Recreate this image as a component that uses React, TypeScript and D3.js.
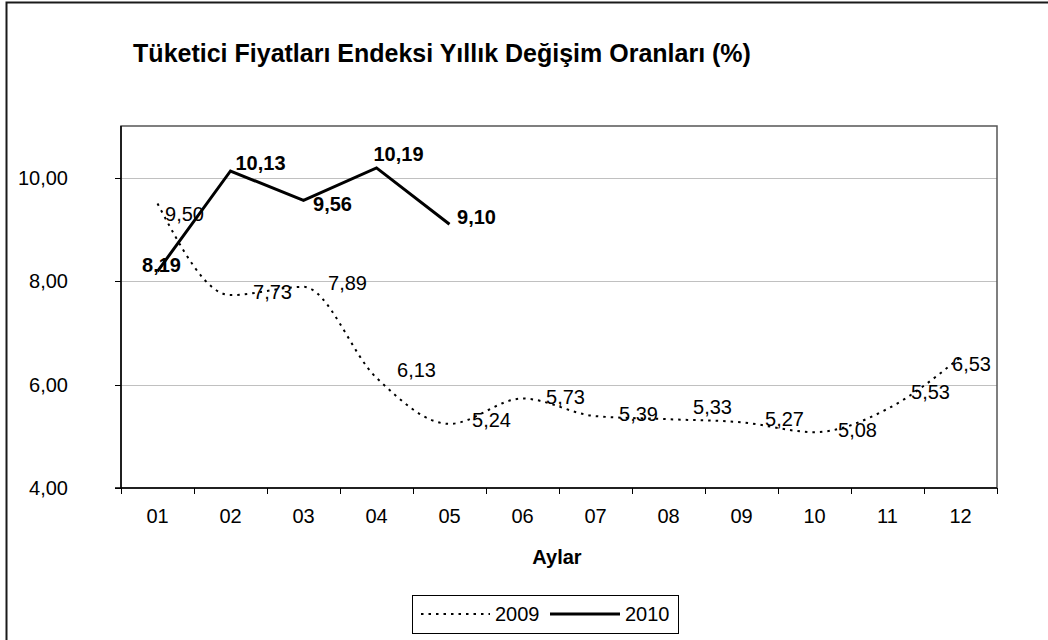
import React from 'react'
import * as d3 from 'd3'

// chart values
const months = ['01', '02', '03', '04', '05', '06', '07', '08', '09', '10', '11', '12']
const values2009 = [9.5, 7.73, 7.89, 6.13, 5.24, 5.73, 5.39, 5.33, 5.27, 5.08, 5.53, 6.53]
const values2010 = [8.19, 10.13, 9.56, 10.19, 9.1]
const yTicks = [4, 6, 8, 10]
const seriesNames = ['2009', '2010']

// hand placed label offsets (like the manually dragged labels in the original)
const offsets2009 = [[27, 10], [42, -3], [44, -4], [40, -8], [42, -4], [43, -2], [43, -2], [44, -12], [43, -3], [43, -2], [43, -17], [11, 7]]
const offsets2010 = [[4, -6], [30, -8], [29, 4], [22, -14], [27, -7]]

const W = 1048
const H = 640
const left = 121
const right = 997
const top = 126
const bottom = 488
const font = '"Liberation Sans", Arial, sans-serif'

const fmt = (v: number) => d3.format('.2f')(v).replace('.', ',')

const App = () => {
  const x = d3.scaleBand().domain(months).range([left, right])
  const cx = (m: string) => (x(m) as number) + x.bandwidth() / 2
  const y = d3.scaleLinear().domain([4, 11]).range([bottom, top])

  // smoothed line for 2009, straight for 2010
  const line09 = d3.line<number>()
    .x((d, i) => cx(months[i]))
    .y(d => y(d))
    .curve(d3.curveMonotoneX)
  const line10 = d3.line<number>()
    .x((d, i) => cx(months[i]))
    .y(d => y(d))

  const tickXs = months.map(m => x(m) as number).concat([right])

  return (
    <svg width={W} height={H} style={{ position: 'absolute', left: 0, top: 0, background: '#fff' }}
      fontFamily={font}>
      <rect x={0} y={0} width={W} height={H} fill="#fff" />
      {/* outer chart frame, cut off at right and bottom */}
      <path d={`M6.5,${H} V2.5 H${W}`} fill="none" stroke="#1a1a1a" strokeWidth={2} />

      <text x={442} y={62} textAnchor="middle" fontSize={25} fontWeight="bold">
        Tüketici Fiyatları Endeksi Yıllık Değişim Oranları (%)
      </text>

      {/* gridlines */}
      {yTicks.filter(t => t > 4).map(t => (
        <line key={t} x1={left} x2={right} y1={Math.round(y(t)) + 0.5} y2={Math.round(y(t)) + 0.5}
          stroke="#c0c0c0" strokeWidth={1} />
      ))}

      {/* plot area border */}
      <rect x={left} y={top} width={right - left} height={bottom - top} fill="none" stroke="#555" strokeWidth={1.5} />

      {/* y axis */}
      <line x1={left} x2={left} y1={top} y2={bottom} stroke="#000" strokeWidth={1.5} />
      {yTicks.map(t => (
        <g key={t}>
          <line x1={left - 6} x2={left} y1={Math.round(y(t)) + 0.5} y2={Math.round(y(t)) + 0.5} stroke="#000" />
          <text x={68} y={y(t)} dy="0.35em" textAnchor="end" fontSize={20}>{fmt(t)}</text>
        </g>
      ))}

      {/* x axis */}
      <line x1={left - 6} x2={right} y1={bottom} y2={bottom} stroke="#000" strokeWidth={1.5} />
      {tickXs.map((t, i) => (
        <line key={i} x1={Math.round(t) + 0.5} x2={Math.round(t) + 0.5} y1={bottom} y2={bottom + 6} stroke="#000" />
      ))}
      {months.map(m => (
        <text key={m} x={cx(m)} y={516} dy="0.35em" textAnchor="middle" fontSize={20}>{m}</text>
      ))}
      <text x={557} y={557} dy="0.35em" textAnchor="middle" fontSize={20} fontWeight="bold">Aylar</text>

      {/* series */}
      <path d={line09(values2009) || ''} fill="none" stroke="#000" strokeWidth={2}
        strokeDasharray="2.5,5" />
      <path d={line10(values2010) || ''} fill="none" stroke="#000" strokeWidth={3} strokeLinejoin="miter" />

      {values2009.map((v, i) => (
        <text key={'a' + i} x={cx(months[i]) + offsets2009[i][0]} y={y(v) + offsets2009[i][1]} dy="0.35em"
          textAnchor="middle" fontSize={20}>{fmt(v)}</text>
      ))}
      {values2010.map((v, i) => (
        <text key={'b' + i} x={cx(months[i]) + offsets2010[i][0]} y={y(v) + offsets2010[i][1]} dy="0.35em"
          textAnchor="middle" fontSize={20} fontWeight="bold">{fmt(v)}</text>
      ))}

      {/* legend */}
      <rect x={412.5} y={595.5} width={266} height={38} fill="#fff" stroke="#000" strokeWidth={1} />
      <line x1={421} x2={490} y1={614} y2={614} stroke="#000" strokeWidth={2} strokeDasharray="2.5,5" />
      <text x={495} y={614} dy="0.35em" fontSize={20}>{seriesNames[0]}</text>
      <line x1={550} x2={620} y1={614} y2={614} stroke="#000" strokeWidth={3} />
      <text x={625} y={614} dy="0.35em" fontSize={20}>{seriesNames[1]}</text>
    </svg>
  )
}

export default App
